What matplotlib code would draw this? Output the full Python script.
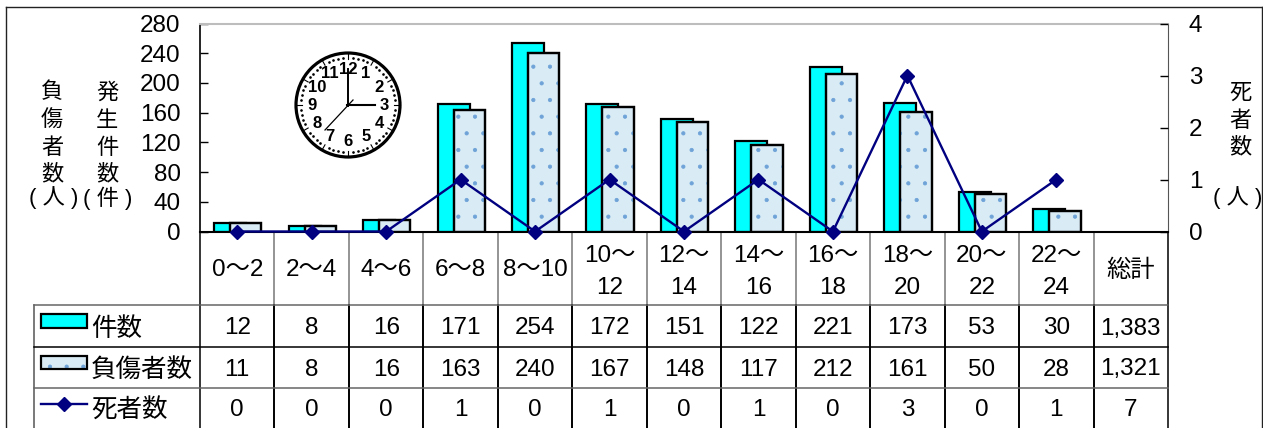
import numpy as np
import matplotlib
matplotlib.use('Agg')
import matplotlib.pyplot as plt
from matplotlib.patches import Circle, Rectangle

plt.rcParams['font.family'] = ['Liberation Sans', 'Noto Sans CJK JP', 'DejaVu Sans']
plt.rcParams['hatch.linewidth'] = 0.6

# data
jikan = ['0〜2', '2〜4', '4〜6', '6〜8', '8〜10', '10〜\n12', '12〜\n14', '14〜\n16',
         '16〜\n18', '18〜\n20', '20〜\n22', '22〜\n24', '総計']
kensu = [12, 8, 16, 171, 254, 172, 151, 122, 221, 173, 53, 30]
fusho = [11, 8, 16, 163, 240, 167, 148, 117, 212, 161, 50, 28]
shisha = [0, 0, 0, 1, 0, 1, 0, 1, 0, 3, 0, 1]
kensu_rows = ['12', '8', '16', '171', '254', '172', '151', '122', '221', '173', '53', '30', '1,383']
fusho_rows = ['11', '8', '16', '163', '240', '167', '148', '117', '212', '161', '50', '28', '1,321']
shisha_rows = ['0', '0', '0', '1', '0', '1', '0', '1', '0', '3', '0', '1', '7']
left_ticks = [0, 40, 80, 120, 160, 200, 240, 280]
right_ticks = [0, 1, 2, 3, 4]

W, H = 1263, 428
fig = plt.figure(figsize=(W/100, H/100), dpi=100)

# overlay in pixels for the table, labels and clock
bg = fig.add_axes([0, 0, 1, 1])
bg.set_xlim(0, W)
bg.set_ylim(H, 0)
bg.axis('off')

L, R, T, B = 200, 1168, 23.5, 231.5
ax = fig.add_axes([L/W, 1-B/H, (R-L)/W, (B-T)/H])
ax.set_xlim(-0.5, 12.5)
ax.set_ylim(0, 280)
ax.patch.set_alpha(0)
x = np.arange(12)
ax.bar(x-0.095, kensu, 0.43, color='#00ffff', edgecolor='black', linewidth=1.6, zorder=2)
ax.bar(x+0.115, fusho, 0.42, color='#d9ecf5', edgecolor='black', linewidth=1.6, zorder=3)
ax.bar(x+0.115, fusho, 0.42, fill=False, edgecolor='#6fa3d8', hatch='.', linewidth=0, zorder=3.1)
ax.bar(x+0.115, fusho, 0.42, fill=False, edgecolor='black', linewidth=1.6, zorder=3.2)
ax.set_yticks(left_ticks)
ax.set_yticklabels([str(v) for v in left_ticks], fontsize=17.5)
ax.tick_params(axis='y', direction='in', length=5.5, width=1, pad=14)
ax.set_xticks([])
ax.spines['top'].set_color('#bdbdbd')
ax.spines['top'].set_linewidth(1.5)
ax.spines['right'].set_color('#555555')
ax.spines['left'].set_linewidth(1.2)
ax.spines['bottom'].set_linewidth(1.5)

ax2 = ax.twinx()
ax2.set_ylim(0, 4)
ax2.plot(x, shisha, color='#000080', lw=1.7, marker='D', ms=7.5, clip_on=False, zorder=5)
ax2.set_yticks(right_ticks)
ax2.set_yticklabels([str(v) for v in right_ticks], fontsize=17.5)
ax2.tick_params(axis='y', direction='in', length=5.5, width=1, pad=15)
ax2.set_xlim(-0.5, 12.5)
for s in ax2.spines.values():
    s.set_visible(False)

# outer frame
bg.plot([6, 6], [H, 7], color='#222222', lw=1)
bg.plot([6, 1262], [7, 7], color='#222222', lw=1)
bg.plot([1262, 1262], [7, H], color='#222222', lw=1)

# table grid
cw = (R-L)/13
for i in range(14):
    xx = L + i*cw
    bg.plot([xx, xx], [B, 305], color='#777777' if 0 < i < 13 else 'black', lw=1.1)
    bg.plot([xx, xx], [305, H], color='black', lw=1.4 if 0 < i < 13 else 1.1)
bg.plot([34, 34], [305, H], color='#555555', lw=1.1)
for yy, c in [(305, '#666666'), (346.5, 'black'), (388, '#666666')]:
    bg.plot([34, R], [yy, yy], color=c, lw=1.1)

FS = 17.5
for i, lab in enumerate(jikan):
    cx = L + (i+0.5)*cw
    if '\n' in lab:
        a, b = lab.split('\n')
        bg.text(cx, 253, a, ha='center', va='center_baseline', fontsize=FS)
        bg.text(cx, 286, b, ha='center', va='center_baseline', fontsize=FS)
    else:
        bg.text(cx, 268, lab, ha='center', va='center_baseline', fontsize=FS)
for yy, row in [(326, kensu_rows), (367, fusho_rows), (408, shisha_rows)]:
    for i, v in enumerate(row):
        bg.text(L + (i+0.5)*cw, yy, v, ha='center', va='center_baseline', fontsize=FS)

# legend column
bg.add_patch(Rectangle((41, 314), 46, 13.5, fc='#00ffff', ec='black', lw=1.6))
bg.add_patch(Rectangle((41, 356), 46, 13, fc='#d9ecf5', ec='#6fa3d8', hatch='.', lw=0))
bg.add_patch(Rectangle((41, 356), 46, 13, fill=False, ec='black', lw=1.6))
bg.plot([41, 87], [404, 404], color='#000080', lw=1.7)
bg.plot([64], [404], color='#000080', marker='D', ms=7.5)
bg.text(91, 329, '件数', va='center', ha='left', fontsize=18.4)
bg.text(91, 370, '負傷者数', va='center', ha='left', fontsize=18.4)
bg.text(91, 411, '死者数', va='center', ha='left', fontsize=18.4)

# axis titles
for cx, chars in [(52, '負傷者数'), (107, '発生件数'), (1240, '死者数')]:
    for yy, ch in zip([93, 121, 148, 175], chars):
        bg.text(cx, yy, ch, ha='center', va='center', fontsize=16)
bg.text(54, 198, '( 人 )', ha='center', va='center', fontsize=16)
bg.text(108, 198, '( 件 )', ha='center', va='center', fontsize=16)
bg.text(1238, 198, '( 人 )', ha='center', va='center', fontsize=16)

# clock
cx, cy, r = 348, 105, 52
bg.add_patch(Circle((cx, cy), r, fc='white', ec='black', lw=2.3, zorder=6))
for m in range(60):
    a = np.radians(m*6)
    if m % 5 == 0:
        bg.plot([cx+(r-6)*np.sin(a), cx+r*np.sin(a)], [cy-(r-6)*np.cos(a), cy-r*np.cos(a)],
                color='black', lw=0.8, zorder=7)
    else:
        bg.plot(cx+(r-5)*np.sin(a), cy-(r-5)*np.cos(a), '.', color='black', ms=1.8, zorder=7)
for h in range(1, 13):
    a = np.radians(h*30)
    bg.text(cx+36*np.sin(a), cy-36*np.cos(a), str(h), ha='center', va='center',
            fontsize=12, fontweight='bold', zorder=8)
bg.plot([cx, cx], [cy+1, cy-36], color='black', lw=1.4, zorder=9)
bg.plot([cx-1, cx+27], [cy, cy], color='black', lw=1.5, zorder=9)
bg.plot([cx+5, cx-23], [cy-5, cy+25], color='black', lw=0.9, zorder=9)

fig.savefig('out.png', dpi=100)
